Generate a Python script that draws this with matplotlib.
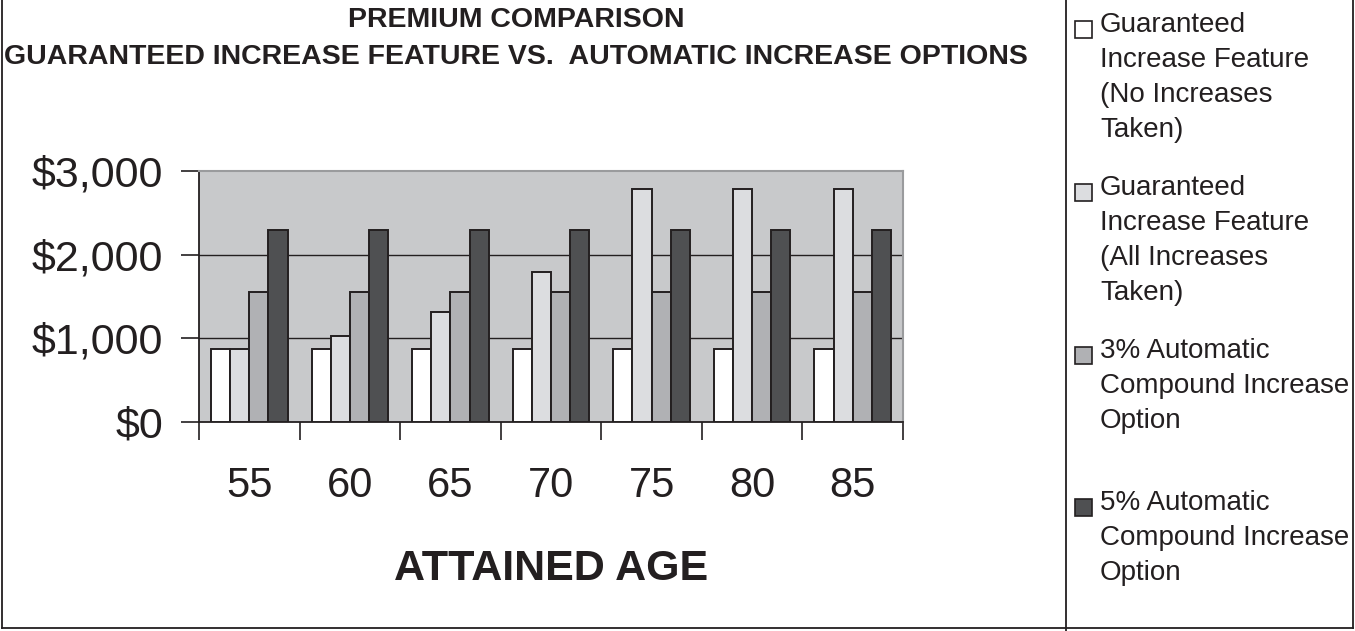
import matplotlib
matplotlib.use("Agg")
import matplotlib.pyplot as plt
from matplotlib.lines import Line2D
from matplotlib.patches import Rectangle
from matplotlib.ticker import FixedLocator, StrMethodFormatter
import numpy as np

ages = ["55", "60", "65", "70", "75", "80", "85"]
no_increases = [870, 870, 870, 870, 870, 870, 870]
all_increases = [870, 1030, 1320, 1790, 2790, 2790, 2790]
auto_3pct = [1550, 1550, 1550, 1550, 1550, 1550, 1550]
auto_5pct = [2290, 2290, 2290, 2290, 2290, 2290, 2290]

series = [no_increases, all_increases, auto_3pct, auto_5pct]
labels = [
    "Guaranteed\nIncrease Feature\n(No Increases\nTaken)",
    "Guaranteed\nIncrease Feature\n(All Increases\nTaken)",
    "3% Automatic\nCompound Increase\nOption",
    "5% Automatic\nCompound Increase\nOption",
]
colors = ["#ffffff", "#dcdde0", "#b0b1b4", "#4f5052"]
ink = "#231f20"

plt.rcParams["font.family"] = ["Liberation Sans", "DejaVu Sans"]

W, H = 1355, 631
fig = plt.figure(figsize=(W / 100, H / 100), dpi=100)
ax = fig.add_axes([199 / W, 1 - 422 / H, (903 - 199) / W, (422 - 171) / H])
ax.set_facecolor("#c8c9cb")

x = np.arange(len(ages))
bw = 0.19
for i, vals in enumerate(series):
    ax.bar(x + (i - 1.5) * bw, vals, width=bw, color=colors[i],
           edgecolor=ink, linewidth=1.4, zorder=3)

ax.set_xlim(-0.5, len(ages) - 0.5)
ax.set_ylim(0, 3000)

# category boundaries get the tick marks, centers get the labels
ax.xaxis.set_major_locator(FixedLocator(np.arange(len(ages) + 1) - 0.5))
ax.xaxis.set_minor_locator(FixedLocator(x))
ax.set_xticklabels([], minor=False)
ax.set_xticklabels(ages, minor=True)
ax.tick_params(axis="x", which="major", length=13, width=1.2, color=ink, direction="out")
ax.tick_params(axis="x", which="minor", length=0, pad=32, labelsize=30, labelcolor=ink)

ax.set_yticks([0, 1000, 2000, 3000])
ax.yaxis.set_major_formatter(StrMethodFormatter("${x:,.0f}"))
ax.tick_params(axis="y", length=13, width=1.2, color=ink, direction="out",
               pad=13, labelsize=31, labelcolor=ink)

ax.grid(axis="y", color=ink, linewidth=1.0, zorder=1)
ax.get_ygridlines()[-1].set_visible(False)
ax.get_ygridlines()[0].set_visible(False)

for side in ["left", "bottom"]:
    ax.spines[side].set_color(ink)
    ax.spines[side].set_linewidth(1.3)
for side in ["top", "right"]:
    ax.spines[side].set_color("#9a9b9d")
    ax.spines[side].set_linewidth(1.5)

ax.set_xlabel("ATTAINED AGE", fontsize=31, fontweight="bold", color=ink, labelpad=31)

fig.text(516 / W, 1 - 20 / H, "PREMIUM COMPARISON", ha="center", va="center",
         fontsize=20.5, fontweight="bold", color=ink)
fig.text(516 / W, 1 - 57 / H, "GUARANTEED INCREASE FEATURE VS.  AUTOMATIC INCREASE OPTIONS",
         ha="center", va="center", fontsize=20.5, fontweight="bold", color=ink)

# legend column on the right
tops = [12, 175, 338, 490]
for lab, col, top in zip(labels, colors, tops):
    fig.add_artist(Rectangle((1075 / W, 1 - (top + 26) / H), 17 / W, 17 / H,
                             transform=fig.transFigure, facecolor=col,
                             edgecolor=ink, linewidth=1.2))
    fig.text(1100 / W, 1 - top / H, lab, ha="left", va="top", fontsize=20,
             color=ink, linespacing=1.45)

# outer frame and legend divider
frame = [((2, 2), (0, 628)), ((2, 1353), (628, 628)),
         ((1353, 1353), (0, 628)), ((1066, 1066), (0, 631))]
for xs, ys in frame:
    fig.add_artist(Line2D([v / W for v in xs], [1 - v / H for v in ys],
                          transform=fig.transFigure, color=ink, linewidth=1.3))

fig.savefig("out.png", dpi=100)
